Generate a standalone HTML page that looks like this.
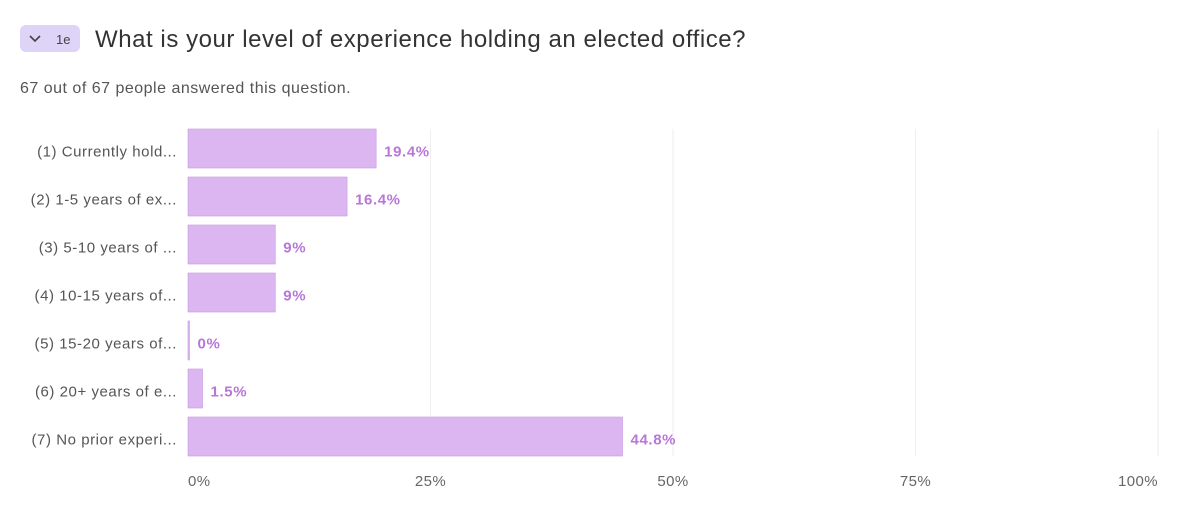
<!DOCTYPE html>
<html><head><meta charset="utf-8">
<style>
body{margin:0;width:1200px;height:519px;background:#fff;font-family:"Liberation Sans",sans-serif;overflow:hidden;position:relative}
.badge{position:absolute;left:20px;top:25px;width:60px;height:27px;background:#ddd4f7;border-radius:6px}
.title{position:absolute;left:95px;top:26px;font-size:24px;letter-spacing:0.55px;color:#333;white-space:nowrap}
.sub{position:absolute;left:20px;top:80px;font-size:16px;letter-spacing:0.5px;color:#555}
svg{position:absolute;left:0;top:0}
</style></head><body>
<div class="badge">
<svg width="60" height="27" viewBox="0 0 60 27"><path d="M10 11 L15 16 L20 11" fill="none" stroke="#444" stroke-width="1.6"/><text x="36" y="19" font-size="13" fill="#444" font-family="Liberation Sans, sans-serif">1e</text></svg>
</div>
<div class="title">What is your level of experience holding an elected office?</div>
<div class="sub">67 out of 67 people answered this question.</div>
<svg id="chart" width="1200" height="519"></svg>
<script>
const categories=["(1) Currently hold...","(2) 1-5 years of ex...","(3) 5-10 years of ...","(4) 10-15 years of...","(5) 15-20 years of...","(6) 20+ years of e...","(7) No prior experi..."];
const values=[19.4,16.4,9,9,0,1.5,44.8];
const valueLabels=["19.4%","16.4%","9%","9%","0%","1.5%","44.8%"];
const ticks=[0,25,50,75,100];
const tickLabels=["0%","25%","50%","75%","100%"];
const NS="http://www.w3.org/2000/svg";
const svg=document.getElementById('chart');
const x0=188,x1=1158,top0=129,step=48,bh=39;
const xs=v=>x0+(x1-x0)*v/100;
function mk(t,a){const e=document.createElementNS(NS,t);for(const k in a)e.setAttribute(k,a[k]);svg.appendChild(e);return e;}
ticks.forEach((t,i)=>{
 if(i>0){const g=mk('line',{x1:xs(t),x2:xs(t),y1:top0,y2:top0+step*7-9,stroke:'#eeeeee','stroke-width':1});
 
 }
 const anchor=i==0?'start':(i==ticks.length-1?'end':'middle');
 const tx=mk('text',{x:xs(t),y:486,'font-size':15,'letter-spacing':0.4,fill:'#666','text-anchor':anchor,'font-family':'Liberation Sans, sans-serif'});
 tx.textContent=tickLabels[i];
 
 
});
categories.forEach((c,i)=>{
 const y=top0+i*step;
 const lb=mk('text',{x:177,y:y+bh/2+8,'font-size':15,'letter-spacing':0.55,fill:'#555','text-anchor':'end','font-family':'Liberation Sans, sans-serif'});
 lb.textContent=c;
 
 
 const w=Math.max(xs(values[i])-x0,1.5);
 const b=mk('rect',{x:x0,y:y,width:w,height:bh,fill:'#dcb6f0',stroke:'#c99ae3','stroke-width':0.6});
 
 
 const vl=mk('text',{x:x0+w+8,y:y+bh/2+8,'font-size':15,'letter-spacing':0.6,'font-weight':'bold',fill:'#b877d8','font-family':'Liberation Sans, sans-serif'});
 vl.textContent=valueLabels[i];
 
 
});
</script>
</body></html>
